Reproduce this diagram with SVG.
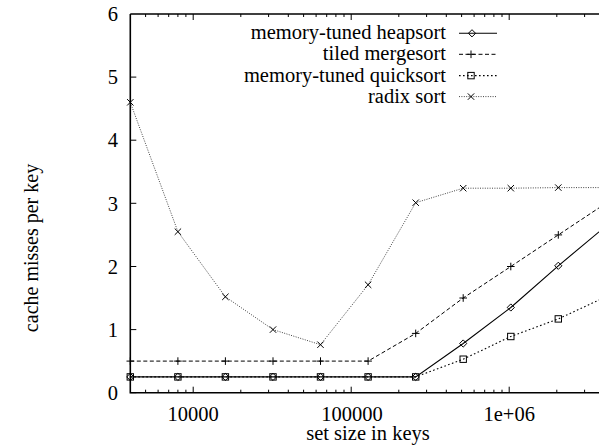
<svg xmlns="http://www.w3.org/2000/svg" xmlns:xlink="http://www.w3.org/1999/xlink" width="599" height="448" viewBox="0 0 599 448" font-family="'Liberation Serif', 'Times New Roman', Times, 'Nimbus Roman', 'DejaVu Serif', serif">
<style>
text{font-family:'Liberation Serif','Times New Roman',Times,'Nimbus Roman','DejaVu Serif',serif;fill:#000}
.tick{font-size:20.5px}
.lbl{font-size:20.5px}
.axis{fill:none;stroke:#000;stroke-width:1.6}
.tk{fill:none;stroke:#000;stroke-width:1}
.heap{fill:none;stroke:#000;stroke-width:1.1}
.merge{fill:none;stroke:#000;stroke-width:1;stroke-dasharray:4 2.5}
.quick{fill:none;stroke:#000;stroke-width:1.1;stroke-dasharray:1.6 2.4}
.radix{fill:none;stroke:#444;stroke-width:1;stroke-dasharray:1 1.4}
.mk{fill:none;stroke:#000;stroke-width:1}
</style>
<defs>
<path id="dia" class="mk" d="M0,-3.6L3.6,0L0,3.6L-3.6,0Z"/>
<rect id="sq" class="mk" x="-3.2" y="-3.2" width="6.4" height="6.4"/>
<path id="plus" class="mk" d="M-3.8,0H3.8M0,-3.8V3.8"/>
<path id="cross" class="mk" d="M-3.2,-3.2L3.2,3.2M-3.2,3.2L3.2,-3.2"/>
</defs>

<g id="axes">
<path class="axis" d="M130.3,14V392.7H610M130.3,14H610"/>
<path class="tk" d="M130.3,392.7h6M130.3,329.6h6M130.3,266.5h6M130.3,203.3h6M130.3,140.2h6M130.3,77.1h6"/>
<path class="tk" d="M193.2,392.7v-6M351.2,392.7v-6M509.2,392.7v-6M193.2,14v6M351.2,14v6M509.2,14v6"/>
<path class="tk" d="M145.6,392.7v-3M158.1,392.7v-3M168.7,392.7v-3M177.9,392.7v-3M185.9,392.7v-3M240.8,392.7v-3M268.6,392.7v-3M288.3,392.7v-3M303.6,392.7v-3M316.1,392.7v-3M326.7,392.7v-3M335.9,392.7v-3M344,392.7v-3M398.8,392.7v-3M426.6,392.7v-3M446.3,392.7v-3M461.6,392.7v-3M474.1,392.7v-3M484.7,392.7v-3M493.9,392.7v-3M502,392.7v-3M556.8,392.7v-3M584.6,392.7v-3"/>
<path class="tk" d="M145.6,14v3M158.1,14v3M168.7,14v3M177.9,14v3M185.9,14v3M240.8,14v3M268.6,14v3M288.3,14v3M303.6,14v3M316.1,14v3M326.7,14v3M335.9,14v3M344,14v3M398.8,14v3M426.6,14v3M446.3,14v3M461.6,14v3M474.1,14v3M484.7,14v3M493.9,14v3M502,14v3M556.8,14v3M584.6,14v3"/>
<g class="tick" text-anchor="end">
<text x="118" y="400">0</text>
<text x="118" y="336.8">1</text>
<text x="118" y="273.7">2</text>
<text x="118" y="210.5">3</text>
<text x="118" y="147.4">4</text>
<text x="118" y="84.3">5</text>
<text x="118" y="21.2">6</text>
</g>
<g class="tick" text-anchor="middle">
<text x="193.2" y="421">10000</text>
<text x="352" y="421">100000</text>
<text x="509.2" y="421">1e+06</text>
</g>
<text class="lbl" x="368" y="440" text-anchor="middle">set size in keys</text>
<text x="37.5" y="248" font-size="20" text-anchor="middle" transform="rotate(-90 37.5 248)">cache misses per key</text>
</g>

<g id="legend" class="lbl" text-anchor="end">
<text x="446" y="39.3">memory-tuned heapsort</text>
<text x="446" y="60.3">tiled mergesort</text>
<text x="446" y="81.6">memory-tuned quicksort</text>
<text x="446" y="102.6">radix sort</text>
<path class="heap" d="M459,33.3H497"/>
<use xlink:href="#dia" x="472" y="33.3"/>
<path class="merge" d="M459,54.3H497"/>
<use xlink:href="#plus" x="471" y="54.3"/>
<path class="quick" d="M459,75.6H497"/>
<use xlink:href="#sq" x="471" y="75.6"/>
<path class="radix" d="M459,96.6H497"/>
<use xlink:href="#cross" x="471" y="96.6"/>
</g>

<g id="connectors">
<g id="radix-sort">
<polyline class="radix" points="130.3,102.3 177.9,231.7 225.4,296.8 273,329.6 320.5,344.7 368.1,284.8 415.7,202.7 463.2,188.2 510.8,188.2 558.3,187.6 605.9,187.6"/>
<use xlink:href="#cross" x="130.3" y="102.3"/>
<use xlink:href="#cross" x="177.9" y="231.7"/>
<use xlink:href="#cross" x="225.4" y="296.8"/>
<use xlink:href="#cross" x="273" y="329.6"/>
<use xlink:href="#cross" x="320.5" y="344.7"/>
<use xlink:href="#cross" x="368.1" y="284.8"/>
<use xlink:href="#cross" x="415.7" y="202.7"/>
<use xlink:href="#cross" x="463.2" y="188.2"/>
<use xlink:href="#cross" x="510.8" y="188.2"/>
<use xlink:href="#cross" x="558.3" y="187.6"/>
</g>
<g id="quicksort">
<polyline class="quick" points="130.3,376.9 177.9,376.9 225.4,376.9 273,376.9 320.5,376.9 368.1,376.9 415.7,376.9 463.2,359.2 510.8,336.5 558.3,318.9 605.9,296.8"/>
<use xlink:href="#sq" x="130.3" y="376.9"/>
<use xlink:href="#sq" x="177.9" y="376.9"/>
<use xlink:href="#sq" x="225.4" y="376.9"/>
<use xlink:href="#sq" x="273" y="376.9"/>
<use xlink:href="#sq" x="320.5" y="376.9"/>
<use xlink:href="#sq" x="368.1" y="376.9"/>
<use xlink:href="#sq" x="415.7" y="376.9"/>
<use xlink:href="#sq" x="463.2" y="359.2"/>
<use xlink:href="#sq" x="510.8" y="336.5"/>
<use xlink:href="#sq" x="558.3" y="318.9"/>
</g>
<g id="mergesort">
<polyline class="merge" points="130.3,361.1 177.9,361.1 225.4,361.1 273,361.1 320.5,361.1 368.1,361.1 415.7,333.4 463.2,298 510.8,266.5 558.3,234.9 605.9,203.3"/>
<use xlink:href="#plus" x="130.3" y="361.1"/>
<use xlink:href="#plus" x="177.9" y="361.1"/>
<use xlink:href="#plus" x="225.4" y="361.1"/>
<use xlink:href="#plus" x="273" y="361.1"/>
<use xlink:href="#plus" x="320.5" y="361.1"/>
<use xlink:href="#plus" x="368.1" y="361.1"/>
<use xlink:href="#plus" x="415.7" y="333.4"/>
<use xlink:href="#plus" x="463.2" y="298"/>
<use xlink:href="#plus" x="510.8" y="266.5"/>
<use xlink:href="#plus" x="558.3" y="234.9"/>
</g>
<g id="heapsort">
<polyline class="heap" points="130.3,376.9 177.9,376.9 225.4,376.9 273,376.9 320.5,376.9 368.1,376.9 415.7,376.9 463.2,343.5 510.8,307.5 558.3,265.8 605.9,226.1"/>
<use xlink:href="#dia" x="130.3" y="376.9"/>
<use xlink:href="#dia" x="177.9" y="376.9"/>
<use xlink:href="#dia" x="225.4" y="376.9"/>
<use xlink:href="#dia" x="273" y="376.9"/>
<use xlink:href="#dia" x="320.5" y="376.9"/>
<use xlink:href="#dia" x="368.1" y="376.9"/>
<use xlink:href="#dia" x="415.7" y="376.9"/>
<use xlink:href="#dia" x="463.2" y="343.5"/>
<use xlink:href="#dia" x="510.8" y="307.5"/>
<use xlink:href="#dia" x="558.3" y="265.8"/>
</g>
</g>
</svg>
